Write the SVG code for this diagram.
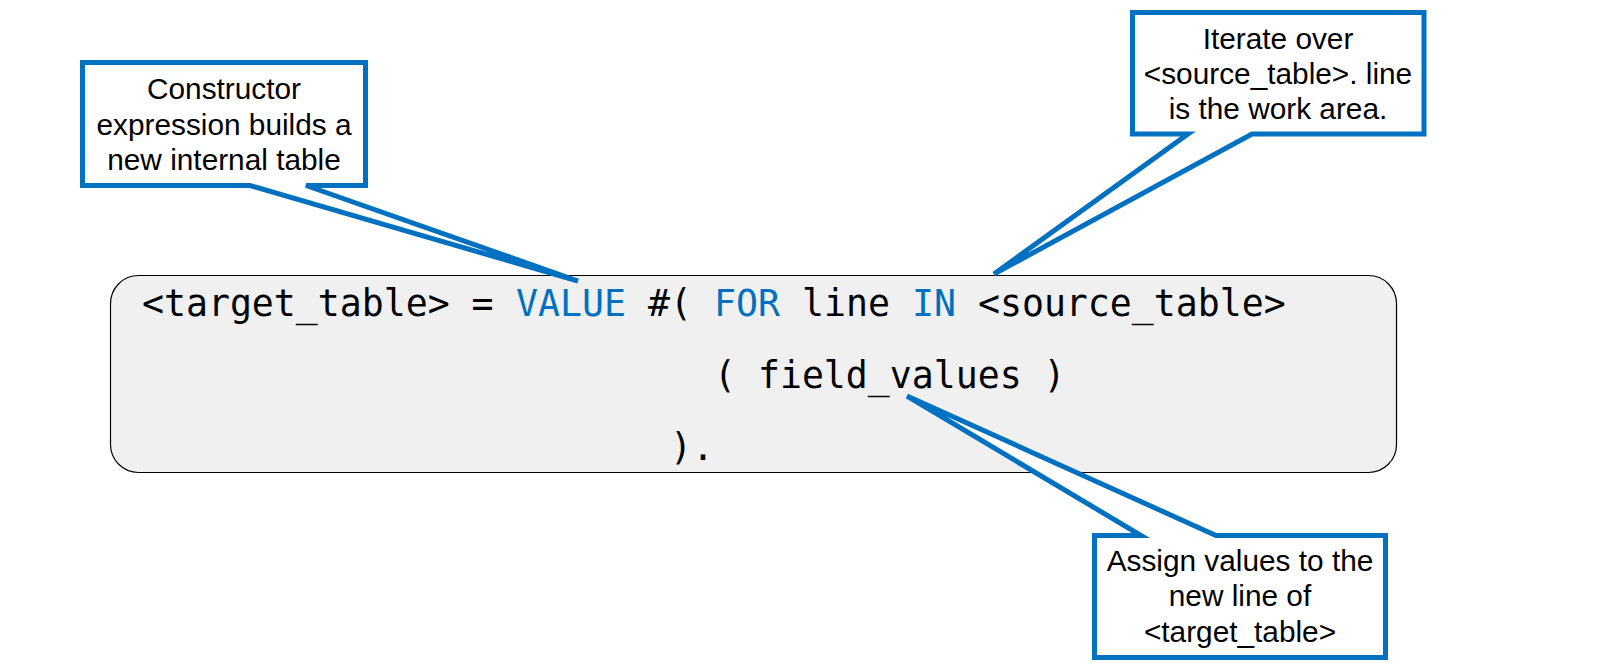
<svg xmlns="http://www.w3.org/2000/svg" width="1600" height="671" viewBox="0 0 1600 671">
  <style>
    .callout { fill: #ffffff; stroke: #0070C0; stroke-width: 5; stroke-linejoin: miter; stroke-miterlimit: 4; }
    .ctext { font-family: "Liberation Sans", Arial, sans-serif; font-size: 29.8px; fill: #000000; text-anchor: middle; }
    .codebox { fill: #F0F0F0; stroke: #000000; stroke-width: 1.2; }
    .code { font-family: "DejaVu Sans Mono", "Liberation Mono", monospace; font-size: 36.5px; fill: #000000; }
    .kw { fill: #0070C0; }
  </style>
  <rect width="1600" height="671" fill="#ffffff"/>

  <g id="code">
    <rect class="codebox" x="110.5" y="275.5" width="1286" height="197" rx="28" ry="28"/>
    <text class="code" y="315.5"><tspan x="142">&lt;target_table&gt; = </tspan><tspan x="516" class="kw">VALUE</tspan><tspan x="626"> #( </tspan><tspan x="714" class="kw">FOR</tspan><tspan x="780"> line </tspan><tspan x="912" class="kw">IN</tspan><tspan x="956"> &lt;source_table&gt;</tspan></text>
    <text class="code" x="714" y="387.5">( field_values )</text>
    <text class="code" x="670" y="459.5">).</text>
  </g>

  <g id="connectors">
    <path class="callout" d="M82.5,62.5 H365.5 V185.5 H306 L578,281 L250,185.5 H82.5 Z"/>
    <path class="callout" d="M1132.5,12.5 H1424 V134 H1252 L994,274 L1188,134 H1132.5 Z"/>
    <path class="callout" d="M1094.5,535.5 H1141 L907,396 L1216,535.5 H1385.5 V657.5 H1094.5 Z"/>
  </g>

  <g id="callout-constructor">
    <text class="ctext" x="224" y="99">Constructor</text>
    <text class="ctext" x="224" y="134.5">expression builds a</text>
    <text class="ctext" x="224" y="170">new internal table</text>
  </g>

  <g id="callout-iterate">
    <text class="ctext" x="1278" y="48.5">Iterate over</text>
    <text class="ctext" x="1278" y="83.5">&lt;source_table&gt;. line</text>
    <text class="ctext" x="1278" y="119">is the work area.</text>
  </g>

  <g id="callout-assign">
    <text class="ctext" x="1240" y="570.5">Assign values to the</text>
    <text class="ctext" x="1240" y="606">new line of</text>
    <text class="ctext" x="1240" y="641.5">&lt;target_table&gt;</text>
  </g>
</svg>
